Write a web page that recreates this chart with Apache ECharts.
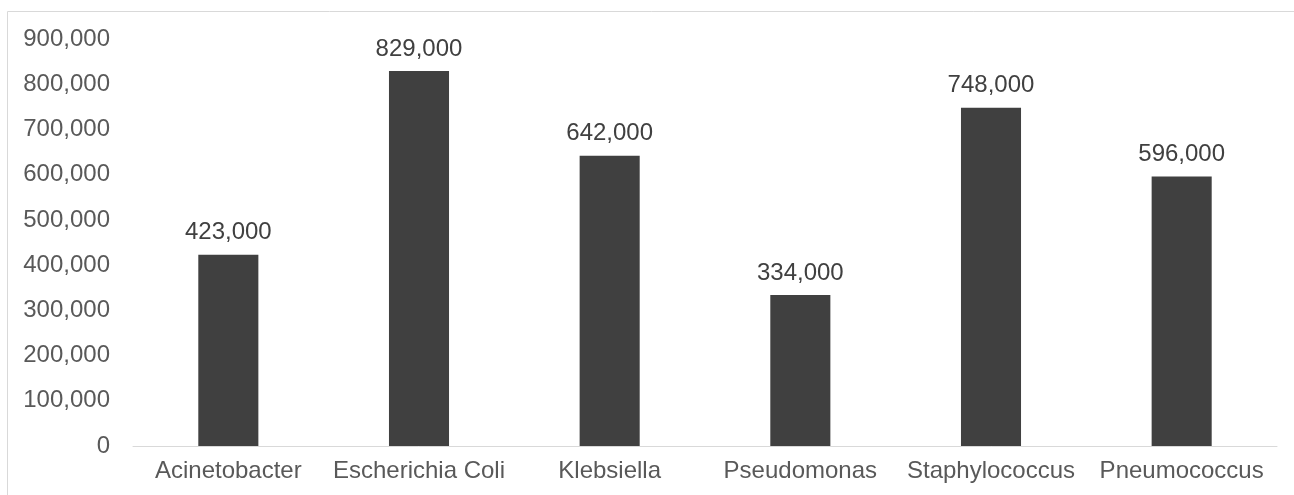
<!DOCTYPE html>
<html>
<head>
<meta charset="utf-8">
<script src="https://cdn.jsdelivr.net/npm/echarts@6/dist/echarts.min.js"></script>
<style>
    html, body { margin: 0; padding: 0; background: #fff; }
    #chart { width: 1294px; height: 495px; }
</style>
</head>
<body>
<div id="chart"></div>
<script>
// 数据
var categories = ['Acinetobacter', 'Escherichia Coli', 'Klebsiella', 'Pseudomonas', 'Staphylococcus', 'Pneumococcus'];
var values = [423000, 829000, 642000, 334000, 748000, 596000];

function fmt(v) {
    return v.toLocaleString('en-US');
}

function initEcharts() {
    var myChart = echarts.init(document.getElementById('chart'));
    var font = 'Liberation Sans, Arial, sans-serif';

    var option = {
        animation: false,
        graphic: [{
            type: 'rect',
            shape: { x: 7.5, y: 11.5, width: 1400, height: 600 },
            style: { fill: 'none', stroke: '#d9d9d9', lineWidth: 1 },
            silent: true
        }],
        grid: {
            left: 133,
            right: 17,
            top: 39,
            bottom: 49
        },
        xAxis: {
            type: 'category',
            data: categories,
            axisLine: { lineStyle: { color: '#d9d9d9', width: 1 } },
            axisTick: { show: false },
            axisLabel: {
                fontSize: 24,
                color: '#595959',
                fontFamily: font,
                margin: 13,
                interval: 0
            }
        },
        yAxis: {
            type: 'value',
            min: 0,
            max: 900000,
            interval: 100000,
            splitLine: { show: false },
            axisLine: { show: false },
            axisTick: { show: false },
            axisLabel: {
                fontSize: 24,
                color: '#595959',
                fontFamily: font,
                margin: 23,
                formatter: function (v) { return fmt(v); }
            }
        },
        series: [{
            type: 'bar',
            data: values,
            barWidth: '31.5%',
            itemStyle: { color: '#404040' },
            label: {
                show: true,
                position: 'top',
                distance: 10,
                fontSize: 24,
                color: '#404040',
                fontFamily: font,
                formatter: function (p) { return fmt(p.value); }
            }
        }]
    };

    myChart.setOption(option);
}

initEcharts();
</script>
</body>
</html>
